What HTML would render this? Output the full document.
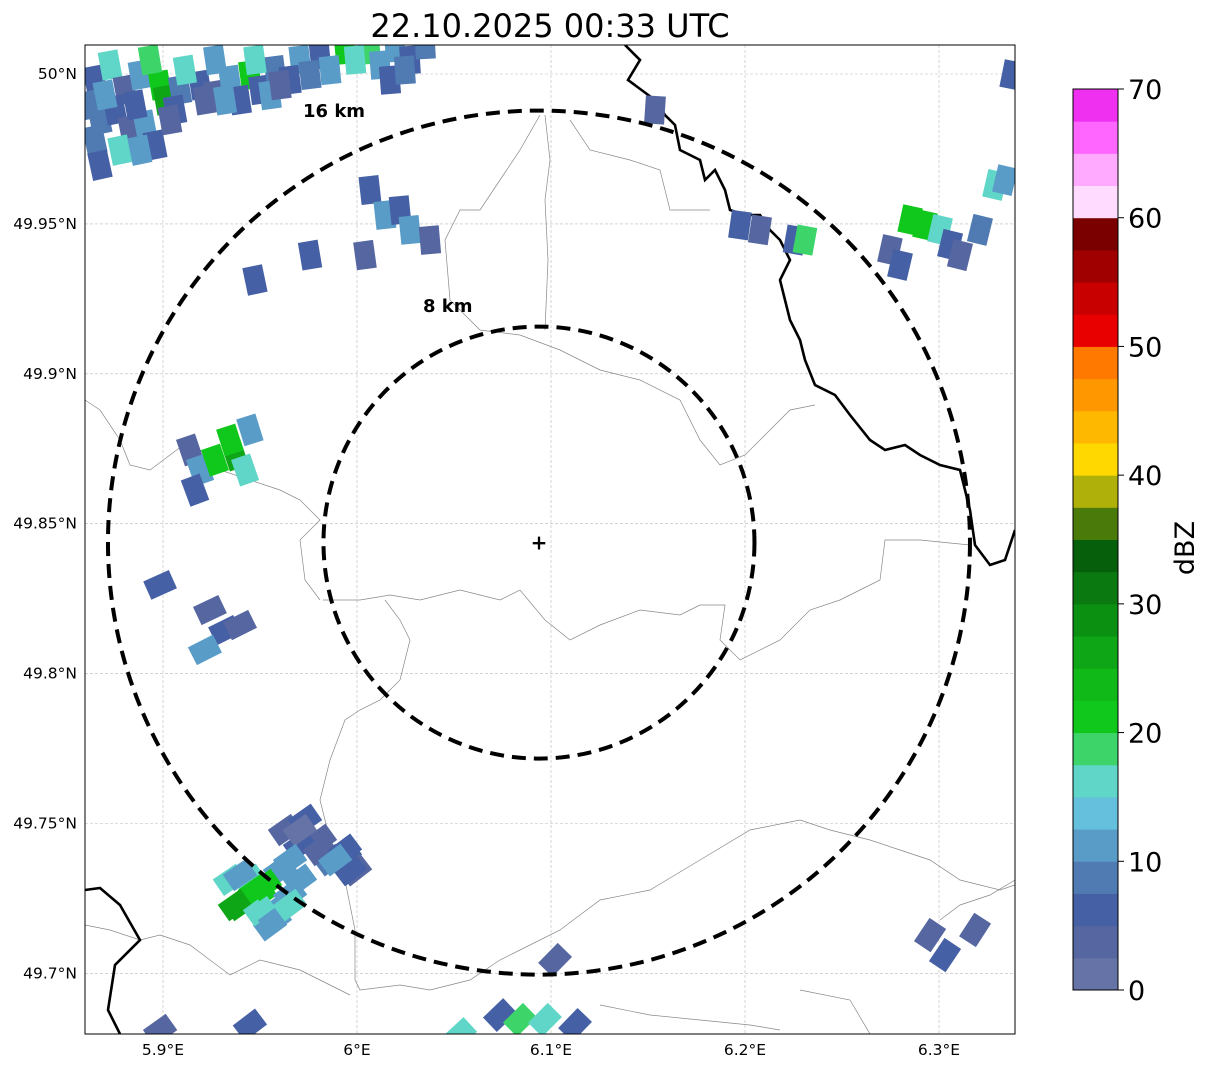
<!DOCTYPE html>
<html><head><meta charset="utf-8"><style>
body{margin:0;background:#fff;font-family:"Liberation Sans",sans-serif}
svg text{font-family:"DejaVu Sans","Liberation Sans",sans-serif}
</style></head><body>
<svg id="chart" width="1207" height="1069">
<text x="550" y="37" text-anchor="middle" font-size="32">22.10.2025 00:33 UTC</text>
<defs><clipPath id="mapclip"><rect x="85" y="45" width="930" height="989"/></clipPath></defs>
<g id="grid"></g>
<g id="borders" clip-path="url(#mapclip)"></g>
<g id="echoes" clip-path="url(#mapclip)"></g>
<g id="rings"></g>
<rect x="85" y="45" width="930" height="989" fill="none" stroke="#000" stroke-width="1"/>
<g id="axes"></g>
<g id="cbar"></g>
</svg>
<script>
const lonTicks=[5.9,6.0,6.1,6.2,6.3];
const lonLabels=["5.9°E","6°E","6.1°E","6.2°E","6.3°E"];
const latTicks=[50.0,49.95,49.9,49.85,49.8,49.75,49.7];
const latLabels=["50°N","49.95°N","49.9°N","49.85°N","49.8°N","49.75°N","49.7°N"];
const radarLon=6.0938, radarLat=49.8437;
const ringKm=[8,16];
const cbarTicks=[0,10,20,30,40,50,60,70];
const cbarColors=["#6673a6","#5566a0","#4560a5","#4f7ab2","#5a9cc8","#64c0dc","#5fd6c8","#3dd46a","#10c81c","#10b818","#0ea616","#0c9012","#0a7a10","#065f0a","#4a7a0a","#b0b00a","#ffd800","#ffb800","#ff9800","#ff7800","#e80000","#c80000","#a00000","#7a0000","#ffdcff","#ffaaff","#ff66ff","#f030f0"];
// echoes: lon, lat, dBZ
const echoLon=[],echoLat=[],echoDbz=[];
const echoPx=[[95,80,5],[110,65,15],[125,90,3],[140,75,10],[160,85,22],[165,100,25],[180,90,8],[200,85,5],[215,95,3],[230,80,10],[250,75,22],[260,90,5],[275,70,8],[100,120,8],[115,110,5],[130,130,3],[145,125,10],[120,150,15],[95,140,8],[175,110,5],[300,60,10],[320,55,5],[345,50,20],[370,50,18],[395,48,10],[410,60,5],[425,45,8],[215,60,10],[240,100,5],[290,80,5],[255,60,15],[90,105,8],[105,95,12],[150,60,18],[135,105,5],[185,70,15],[205,100,3],[225,100,12],[270,95,10],[280,85,3],[310,75,8],[330,70,12],[355,60,15],[380,65,12],[390,80,5],[405,70,8],[155,145,5],[140,150,10],[100,165,5],[170,120,3],
[370,190,5],[385,215,10],[400,210,5],[410,230,12],[365,255,3],[310,255,5],[255,280,5],[430,240,3],[655,110,3],[740,225,5],[760,230,3],[795,240,5],[805,240,18],[1012,75,5],[910,220,22],[925,225,20],[940,230,15],[950,245,5],[960,255,3],[980,230,8],[995,185,15],[1005,180,10],[890,250,3],[900,265,5],
[190,450,3],[200,470,10],[215,460,22],[235,455,25],[245,470,15],[250,430,12],[230,440,20],[195,490,5],[160,585,5],[210,610,3],[225,630,5],[240,625,3],[205,650,12],
[285,830,3],[305,820,5],[320,840,3],[345,855,5],[355,870,3],[300,845,5],[330,860,8],[250,880,15],[260,895,22],[240,905,25],[275,910,10],[290,895,12],[230,880,15],[270,925,12],
[300,830,2],[320,850,3],[345,850,6],[350,870,5],[335,860,12],[290,860,10],[280,870,12],[300,880,10],[240,875,12],[255,890,20],[235,905,25],[260,910,15],[275,920,12],[265,885,22],[290,905,15],
[160,1030,3],[250,1025,5],[500,1015,5],[520,1020,18],[545,1020,15],[575,1025,5],[555,960,3],[930,935,3],[945,955,5],[975,930,3],[460,1034,15]];
echoPx.forEach(p=>{echoLon.push(+(5.9+(p[0]-163)/1940).toFixed(4));echoLat.push(+(50-(p[1]-74)/2998).toFixed(4));echoDbz.push(p[2]);});

const NS="http://www.w3.org/2000/svg";
const X=lon=>163+(lon-5.9)*1940;
const Y=lat=>74+(50-lat)*2998;
function mk(tag,attrs,parent){const e=document.createElementNS(NS,tag);for(const k in attrs)e.setAttribute(k,attrs[k]);parent.appendChild(e);return e;}
const grid=document.getElementById('grid'),axes=document.getElementById('axes');
lonTicks.forEach((v,i)=>{
 const l=mk('line',{x1:X(v),x2:X(v),y1:45,y2:1034,stroke:'#bbb','stroke-width':0.6,'stroke-dasharray':'3,2'},grid);
 
 const t=mk('text',{x:X(v),y:1055,'text-anchor':'middle','font-size':15.5},axes);t.textContent=lonLabels[i];
 
});
latTicks.forEach((v,i)=>{
 const l=mk('line',{x1:85,x2:1015,y1:Y(v),y2:Y(v),stroke:'#bbb','stroke-width':0.6,'stroke-dasharray':'3,2'},grid);
 
 const t=mk('text',{x:77,y:Y(v)+5,'text-anchor':'end','font-size':15.5},axes);t.textContent=latLabels[i];
 
});
// borders
const bd=document.getElementById('borders');
const thin=[
"85,400 100,410 120,440 130,465 150,470 170,455 190,440 220,470 250,480 280,490 300,500 320,520 300,540 305,580 320,600",
"323,600 360,600 390,595 420,600 460,590 500,600 520,590 545,620 570,640 600,625 640,610 680,615 700,605 725,605 720,640 740,660 780,640 810,610 840,600 880,580 885,540 920,540 970,545",
"540,115 520,150 500,180 480,210 460,210 445,240 450,300 480,330 520,335 560,350 600,370 640,380 680,400 700,440 720,465 745,455 760,440 790,410 815,405",
"545,115 550,160 545,200 548,260 545,330",
"570,120 590,150 630,160 660,170 670,210 690,210 710,210",
"385,600 400,620 410,640 400,680 380,700 360,710 345,720 330,760 320,800 330,840 345,880 355,930 355,980 360,990 400,985 430,990 470,980 500,960 520,950 560,930 600,900 650,890 700,860 750,830 800,820 830,830 870,840 900,850 930,860 960,880 1000,890 1015,885",
"85,925 110,930 140,940 160,935 190,945 210,960 230,975 260,960 280,965 300,970 320,980 340,990 350,995",
"800,990 850,1000 870,1034",
"600,1005 650,1015 700,1020 750,1025 780,1030",
"1015,880 990,895 960,905 940,920"];
thin.forEach(p=>{const e=mk('polyline',{points:p,fill:'none',stroke:'#888','stroke-width':0.7},bd);});
const thick=["625,45 640,60 628,80 655,100 665,115 675,125 680,150 700,160 705,180 715,170 725,190 730,210 745,215 760,215 770,230 780,240 790,260 780,280 785,300 790,320 800,340 805,360 815,385 835,395 850,415 870,440 885,450 905,445 920,455 940,465 960,470 965,490 970,510 975,545 990,565 1005,560 1015,530",
"85,890 100,888 120,905 140,940 115,965 108,1010 120,1034"];
thick.forEach(p=>{const e=mk('polyline',{points:p,fill:'none',stroke:'#000','stroke-width':2.6},bd);});
// echoes
const eg=document.getElementById('echoes');
const cx=X(radarLon),cy=Y(radarLat);
function colorFor(d){return cbarColors[Math.max(0,Math.min(27,Math.floor(d/2.5)))];}
echoLon.forEach((lon,i)=>{
 const x=X(lon),y=Y(echoLat[i]);
 const ang=Math.atan2(y-cy,x-cx)*180/Math.PI;
 const r=mk('rect',{x:x-10,y:y-14,width:20,height:28,fill:colorFor(echoDbz[i]),transform:`rotate(${(ang+90)*0.25} ${x} ${y})`},eg);
 
});
// rings
const rg=document.getElementById('rings');
const pxPerKmX=215.5/8, pxPerKmY=216/8;
ringKm.forEach(k=>{
 const e=mk('ellipse',{cx:cx,cy:cy,rx:k*pxPerKmX,ry:k*pxPerKmY,fill:'none',stroke:'#000','stroke-width':4,'stroke-dasharray':'14,8'},rg);
 
 const t=mk('text',{x:k===16?303:423,y:k===16?117:312,'font-size':18,'font-weight':'bold'},rg);
 t.textContent=k+' km';
 
});
const m=mk('text',{x:cx,y:cy+7,'text-anchor':'middle','font-size':20,'font-weight':'bold'},rg);m.textContent='+';

// colorbar
const cb=document.getElementById('cbar');
const cbY=v=>990-(v/70)*901;
cbarColors.forEach((c,i)=>{const r=mk('rect',{x:1073,y:cbY((i+1)*2.5),width:45,height:cbY(i*2.5)-cbY((i+1)*2.5)+0.5,fill:c},cb);
 });
mk('rect',{x:1073,y:89,width:45,height:901,fill:'none',stroke:'#000','stroke-width':1},cb);
cbarTicks.forEach(v=>{mk('line',{x1:1118,x2:1124,y1:cbY(v),y2:cbY(v),stroke:'#000'},cb);
 const t=mk('text',{x:1128,y:cbY(v)+10,'font-size':27},cb);t.textContent=v;
 });
const lt=mk('text',{x:1194,y:548,'font-size':27,'text-anchor':'middle',transform:'rotate(-90 1194 548)'},cb);lt.textContent='dBZ';

</script>
</body></html>
